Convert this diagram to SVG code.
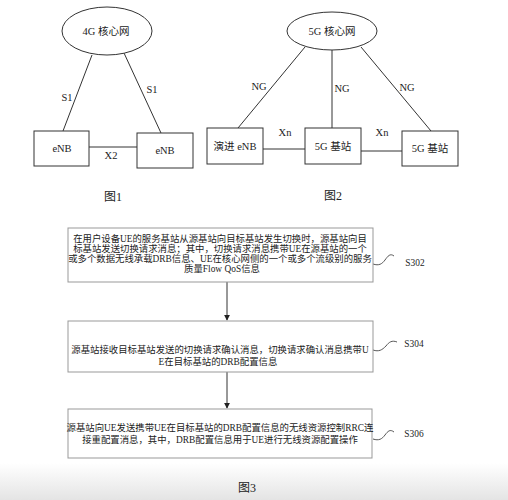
<svg xmlns="http://www.w3.org/2000/svg" width="508" height="500" viewBox="0 0 508 500">
<style>
.n{fill:#fff;stroke:#333;stroke-width:1}
.fb{fill:#fff;stroke:#999;stroke-width:1}
.ln{stroke:#333;stroke-width:1;fill:none}
.sq{stroke:#444;stroke-width:0.9;fill:none}
.t{font-family:"Liberation Serif","Noto Sans CJK SC",serif;font-size:10.5px;fill:#222;text-anchor:middle}
.ft{font-family:"Liberation Serif","Noto Sans CJK SC",serif;font-size:9.4px;fill:#222;text-anchor:middle}
.cap{font-family:"Liberation Serif","Noto Sans CJK SC",serif;font-size:12px;fill:#222;text-anchor:middle}
</style>
<defs>
<linearGradient id="bg" x1="0" y1="0" x2="0" y2="1">
<stop offset="0" stop-color="#ffffff"/>
<stop offset="1" stop-color="#e4e4e4"/>
</linearGradient>
<marker id="ah" viewBox="0 0 8 8" refX="7" refY="4" markerWidth="6" markerHeight="6" orient="auto">
<path d="M0,0 L8,4 L0,8 z" fill="#222"/>
</marker>
</defs>
<rect x="0" y="0" width="508" height="500" fill="#fff"/>
<rect x="0" y="463" width="508" height="37" fill="url(#bg)"/>

<g id="connectors">
<line class="ln" x1="92" y1="55" x2="63" y2="131"/>
<line class="ln" x1="124" y1="53" x2="161" y2="133"/>
<line class="ln" x1="89" y1="147" x2="137" y2="147"/>
<line class="ln" x1="305" y1="47" x2="238" y2="128"/>
<line class="ln" x1="332" y1="50" x2="332" y2="128"/>
<line class="ln" x1="361" y1="47" x2="431" y2="131"/>
<line class="ln" x1="263" y1="149" x2="305" y2="149"/>
<line class="ln" x1="361" y1="151" x2="402" y2="151"/>
<line class="ln" x1="227" y1="282" x2="227" y2="320" marker-end="url(#ah)"/>
<line class="ln" x1="227" y1="372" x2="227" y2="408" marker-end="url(#ah)"/>
<path class="sq" d="M373,264 C379,266 382,264 385,260 C388,256 390,253 394,256"/>
<path class="sq" d="M373,350 C379,352 382,350 386,346 C389,342 392,340 397,342"/>
<path class="sq" d="M373,439 C379,441 382,439 385,435 C388,431 390,429 394,432"/>
<text class="t" x="67" y="101">S1</text>
<text class="t" x="152" y="93">S1</text>
<text class="t" x="111" y="159">X2</text>
<text class="t" x="259" y="90">NG</text>
<text class="t" x="342" y="92">NG</text>
<text class="t" x="407" y="91">NG</text>
<text class="t" x="285" y="136">Xn</text>
<text class="t" x="382" y="136">Xn</text>
<text class="ft" x="415" y="266">S302</text>
<text class="ft" x="414" y="347">S304</text>
<text class="ft" x="414" y="437">S306</text>
</g>

<g id="core4g">
<ellipse class="n" cx="107" cy="31" rx="45" ry="24"/>
<text class="t" x="106" y="35">4G 核心网</text>
</g>
<g id="enb1">
<rect class="n" x="34" y="131" width="55" height="35"/>
<text class="t" x="62" y="152">eNB</text>
</g>
<g id="enb2">
<rect class="n" x="137" y="133" width="56" height="35"/>
<text class="t" x="165" y="154">eNB</text>
</g>
<text class="cap" x="113" y="201">图1</text>

<g id="core5g">
<ellipse class="n" cx="332" cy="31" rx="45" ry="19"/>
<text class="t" x="332" y="35">5G 核心网</text>
</g>
<g id="eenb">
<rect class="n" x="207" y="128" width="56" height="36"/>
<text class="t" x="235" y="150">演进 eNB</text>
</g>
<g id="gnb1">
<rect class="n" x="305" y="128" width="56" height="36"/>
<text class="t" x="333" y="150">5G 基站</text>
</g>
<g id="gnb2">
<rect class="n" x="402" y="131" width="56" height="35"/>
<text class="t" x="430" y="152">5G 基站</text>
</g>
<text class="cap" x="333" y="200">图2</text>

<g id="s302">
<rect class="fb" x="68" y="228" width="305" height="54"/>
<text class="ft" x="220" y="242">在用户设备UE的服务基站从源基站向目标基站发生切换时，源基站向目</text>
<text class="ft" x="220" y="252">标基站发送切换请求消息；其中，切换请求消息携带UE在源基站的一个</text>
<text class="ft" x="220" y="262">或多个数据无线承载DRB信息、UE在核心网侧的一个或多个流级别的服务</text>
<text class="ft" x="222" y="272">质量Flow QoS信息</text>
</g>
<g id="s304">
<rect class="fb" x="68" y="321" width="305" height="51"/>
<text class="ft" x="220" y="353">源基站接收目标基站发送的切换请求确认消息，切换请求确认消息携带U</text>
<text class="ft" x="218" y="365">E在目标基站的DRB配置信息</text>
</g>
<g id="s306">
<rect class="fb" x="68" y="409" width="304" height="49"/>
<text class="ft" x="220" y="431">源基站向UE发送携带UE在目标基站的DRB配置信息的无线资源控制RRC连</text>
<text class="ft" x="220" y="443">接重配置消息，其中，DRB配置信息用于UE进行无线资源配置操作</text>
</g>
<text class="cap" x="247" y="492">图3</text>
</svg>
